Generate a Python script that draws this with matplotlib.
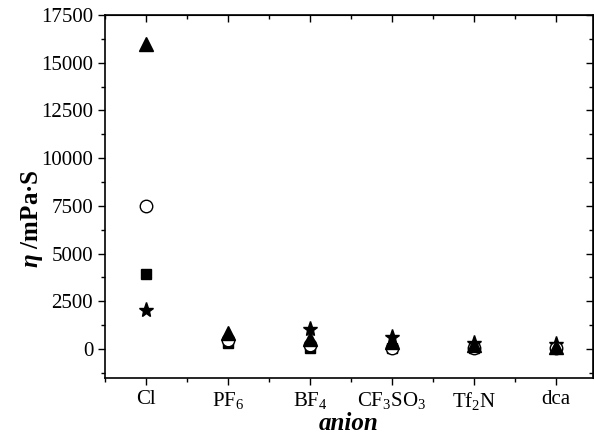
import matplotlib
matplotlib.use("Agg")
import matplotlib.pyplot as plt
from matplotlib.ticker import MultipleLocator, NullFormatter

plt.rcParams['font.family'] = ['Liberation Serif', 'DejaVu Serif']
plt.rcParams['mathtext.fontset'] = 'custom'
plt.rcParams['mathtext.rm'] = 'Liberation Serif'
plt.rcParams['mathtext.it'] = 'Liberation Serif:italic'
plt.rcParams['mathtext.bf'] = 'Liberation Serif:bold'
plt.rcParams['mathtext.bfit'] = 'Liberation Serif:italic:bold'

anions = ['Cl', 'PF$_6$', 'BF$_4$', 'CF$_3$SO$_3$', 'Tf$_2$N', 'dca']
triangle = [16000, 840, 520, 370, 200, 100]
circle = [7500, 470, 210, 60, 60, 40]
square = [3950, 310, 50, 50, 30, 30]
star = [2050, None, 1050, 630, 300, 260]

fig = plt.figure(figsize=(5.94, 4.38), dpi=100)
ax = fig.add_axes([105/594, 60/438, 488/594, 363/438])
x = list(range(1, len(anions) + 1))

def pts(vals):
    xs = [xi for xi, v in zip(x, vals) if v is not None]
    ys = [v for v in vals if v is not None]
    return xs, ys

ax.plot(*pts(star), linestyle='none', marker='*', ms=11, color='black', zorder=3)
ax.plot(*pts(square), linestyle='none', marker='s', ms=7.5, color='black', zorder=4)
ax.plot(*pts(circle), linestyle='none', marker='o', ms=9, mfc='white', mec='black', mew=1, zorder=5)
ax.plot(*pts(triangle), linestyle='none', marker='^', ms=9.5, color='black', zorder=6)

ax.set_xlim(0.5, 6.45)
ax.set_ylim(-1520, 17500)
ax.set_xticks(x)
ax.set_xticklabels(anions, fontsize=15)
ax.xaxis.set_minor_locator(MultipleLocator(0.5))
ax.yaxis.set_major_locator(MultipleLocator(2500))
ax.yaxis.set_minor_locator(MultipleLocator(1250))
ax.tick_params(axis='y', labelsize=15)
ax.tick_params(which='major', direction='out', length=5, width=1)
ax.tick_params(which='minor', direction='out', length=3, width=1)
for s in ax.spines.values():
    s.set_linewidth(1.2)

# mirrored inward ticks on top and right
top = ax.secondary_xaxis('top')
top.set_xticks(x)
top.xaxis.set_minor_locator(MultipleLocator(0.5))
top.xaxis.set_major_formatter(NullFormatter())
top.tick_params(which='major', direction='in', length=5, width=1)
top.tick_params(which='minor', direction='in', length=3, width=1)
right = ax.secondary_yaxis('right')
right.yaxis.set_major_locator(MultipleLocator(2500))
right.yaxis.set_minor_locator(MultipleLocator(1250))
right.yaxis.set_major_formatter(NullFormatter())
right.tick_params(which='major', direction='in', length=5, width=1)
right.tick_params(which='minor', direction='in', length=3, width=1)

ax.set_xlabel('anion', fontsize=18, fontweight='bold', fontstyle='italic', labelpad=0)
ax.set_ylabel(r'$\mathbfit{\eta}$ /mPa·S', fontsize=18, fontweight='bold')
ax.yaxis.set_label_coords(-0.123, 0.44)

fig.savefig('out.png', dpi=100)
